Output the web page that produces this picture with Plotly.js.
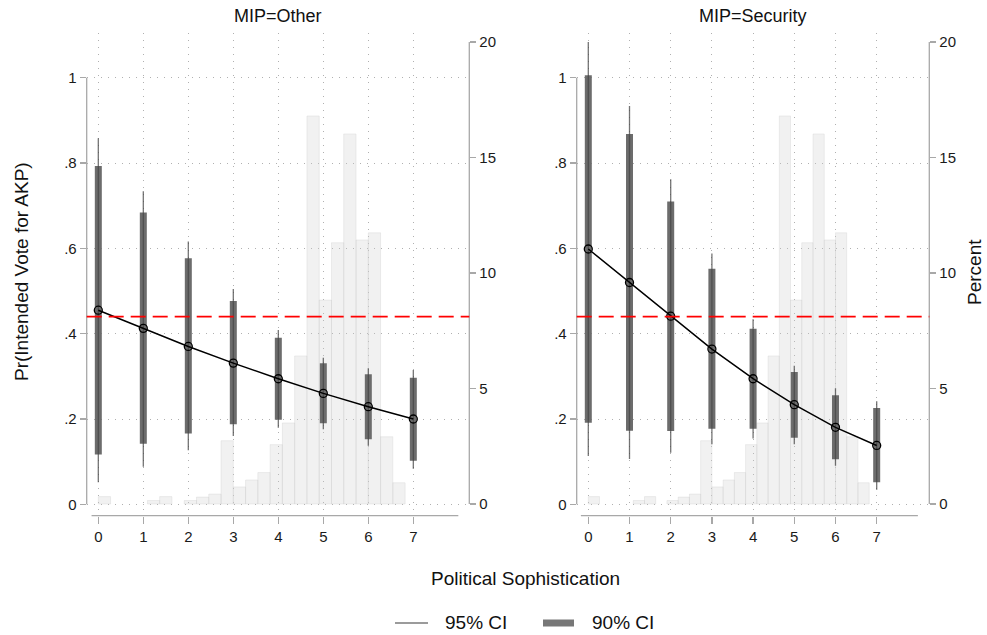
<!DOCTYPE html>
<html>
<head>
<meta charset="utf-8">
<script src="https://cdn.plot.ly/plotly-3.0.1.min.js"></script>
<style>html,body{margin:0;padding:0;background:#fff;}#chart{width:987px;height:635px;}</style>
</head>
<body>
<div id="chart"></div>
<script>
// ---------------- data ----------------
const sophistication = [0, 1, 2, 3, 4, 5, 6, 7];

const otherEst  = [0.455, 0.4125, 0.370, 0.331, 0.2944, 0.260, 0.2289, 0.200];
const otherLo95 = [0.052, 0.088, 0.127, 0.160, 0.1796, 0.1758, 0.1375, 0.0836];
const otherHi95 = [0.858, 0.734, 0.616, 0.505, 0.4086, 0.3437, 0.3188, 0.3149];
const otherLo90 = [0.117, 0.142, 0.166, 0.1875, 0.1983, 0.1899, 0.1524, 0.1023];
const otherHi90 = [0.793, 0.684, 0.577, 0.4766, 0.3906, 0.3305, 0.3047, 0.2969];

const secEst  = [0.5985, 0.520, 0.441, 0.364, 0.2944, 0.2335, 0.1805, 0.138];
const secLo95 = [0.113, 0.106, 0.121, 0.141, 0.154, 0.1406, 0.0905, 0.0342];
const secHi95 = [1.0837, 0.9337, 0.762, 0.588, 0.434, 0.325, 0.272, 0.2414];
const secLo90 = [0.191, 0.1726, 0.172, 0.177, 0.177, 0.156, 0.1055, 0.0516];
const secHi90 = [1.006, 0.868, 0.710, 0.552, 0.4117, 0.310, 0.2555, 0.2257];

// histogram of political sophistication (percent per bin)
const histStart = 0;
const histBinWidth = 0.2727;
const histPercent = [0.32, 0, 0, 0, 0.15, 0.32, 0, 0.15, 0.30, 0.43, 2.74, 0.74, 1.04,
                     1.36, 2.57, 3.51, 6.41, 16.8, 8.83, 11.31, 16.02, 11.43, 11.74, 2.91, 0.92];

const refLine = 0.44;

const probTickVals = [0, 0.2, 0.4, 0.6, 0.8, 1];
const probTickText = ['0', '.2', '.4', '.6', '.8', '1'];
const pctTickVals = [0, 5, 10, 15, 20];
const xTickVals = [0, 1, 2, 3, 4, 5, 6, 7];

const panelTitles = ['MIP=Other', 'MIP=Security'];
const yTitle = 'Pr(Intended Vote for AKP)';
const y2Title = 'Percent';
const xTitle = 'Political Sophistication';
const legendLabels = ['95% CI', '90% CI'];

// ---------------- helpers ----------------
const W = 987, H = 635;
const px = v => v / W;
const py = v => 1 - v / H;

function segs(xs, lo, hi) {
  const X = [], Y = [];
  xs.forEach((x, i) => { X.push(x, x, null); Y.push(lo[i], hi[i], null); });
  return {x: X, y: Y};
}
const histX = histPercent.map((_, i) => histStart + (i + 0.5) * histBinWidth);
const histEdgeW = histPercent.map(v => v > 0 ? 0.8 : 0);

const FONT = 'Liberation Sans, Arial, sans-serif';
const ciThick = '#6c6c6c';

function panelTraces(xa, yPct, yProb, est, lo95, hi95, lo90, hi90) {
  const s95 = segs(sophistication, lo95, hi95);
  const s90 = segs(sophistication, lo90, hi90);
  return [
    {type: 'bar', x: histX, y: histPercent, width: histBinWidth, xaxis: xa, yaxis: yPct,
     marker: {color: 'rgba(205,205,205,0.28)', line: {color: 'rgba(200,200,200,0.4)', width: histEdgeW}},
     showlegend: false, hoverinfo: 'skip'},
    {type: 'scatter', mode: 'lines', x: s90.x, y: s90.y, xaxis: xa, yaxis: yProb,
     line: {color: ciThick, width: 7}, showlegend: false, hoverinfo: 'skip'},
    {type: 'scatter', mode: 'lines', x: s95.x, y: s95.y, xaxis: xa, yaxis: yProb,
     line: {color: 'rgba(70,70,70,0.75)', width: 1.3}, showlegend: false, hoverinfo: 'skip'},
    {type: 'scatter', mode: 'lines+markers', x: sophistication, y: est, xaxis: xa, yaxis: yProb,
     line: {color: '#000', width: 1.5},
     marker: {symbol: 'circle-open', size: 8, color: '#000', line: {width: 1.3, color: '#000'}},
     showlegend: false, hoverinfo: 'skip'}
  ];
}

const data = [
  ...panelTraces('x', 'y', 'y2', otherEst, otherLo95, otherHi95, otherLo90, otherHi90),
  ...panelTraces('x2', 'y3', 'y4', secEst, secLo95, secHi95, secLo90, secHi90)
];

const gridCol = '#b0b0b0';
const gridDash = '1px,6px';
const axCol = '#a8a8a8';
const tickFont = {family: FONT, size: 15, color: '#1a1a1a'};

const yDom = [py(512), py(33)];
const probRange = [-0.018, 1.1048];
const pctRange = [-0.346, 20.39];

function xAxis(dom, range) {
  return {domain: dom, range: range, anchor: 'free', position: py(515.7),
          tickvals: xTickVals, ticks: 'outside', ticklen: 7, tickcolor: axCol, tickwidth: 1.2,
          showline: false, zeroline: false, showgrid: true, gridcolor: gridCol, griddash: gridDash, gridwidth: 1,
          tickfont: tickFont, fixedrange: true};
}
function pctAxis(anchor) {
  return {domain: yDom, range: pctRange, anchor: anchor, side: 'right',
          tickvals: pctTickVals, ticks: 'outside', ticklen: 6, tickcolor: axCol, tickwidth: 1.2,
          showgrid: false, zeroline: false, showline: false, tickfont: tickFont, fixedrange: true};
}
function probAxis(anchor, over) {
  return {domain: yDom, range: probRange, anchor: anchor, overlaying: over, side: 'left',
          tickvals: probTickVals, ticktext: probTickText, ticks: 'outside', ticklen: 6, tickcolor: axCol, tickwidth: 1.2,
          showgrid: true, gridcolor: gridCol, griddash: gridDash, gridwidth: 1,
          zeroline: false, showline: false, tickfont: tickFont, fixedrange: true};
}

const xDomL = [px(86.7), px(469.3)];
const xDomR = [px(576.7), px(929.3)];

const shapes = [];
function panelShapes(xa, yPct, yProb, xLineFrom, xLineTo) {
  shapes.push({type: 'line', xref: xa + ' domain', yref: yProb, x0: 0, x1: 0, y0: 0, y1: 1,
               line: {color: axCol, width: 1.3}});
  shapes.push({type: 'line', xref: xa + ' domain', yref: yPct, x0: 1, x1: 1, y0: 0, y1: 20,
               line: {color: axCol, width: 1.3}});
  shapes.push({type: 'line', xref: xa, yref: 'paper', x0: xLineFrom, x1: xLineTo, y0: py(515.7), y1: py(515.7),
               line: {color: axCol, width: 1.3}});
  shapes.push({type: 'line', xref: xa + ' domain', yref: yProb, x0: 0, x1: 1, y0: refLine, y1: refLine,
               line: {color: '#ff0000', width: 1.6, dash: '15px,7px'}, layer: 'above'});
}
panelShapes('x', 'y', 'y2', -0.15, 8.0);
panelShapes('x2', 'y3', 'y4', -0.18, 8.0);

// legend samples
shapes.push({type: 'line', xref: 'paper', yref: 'paper', x0: px(395), x1: px(428), y0: py(623), y1: py(623),
             line: {color: '#7a7a7a', width: 1.5}});
shapes.push({type: 'rect', xref: 'paper', yref: 'paper', x0: px(543), x1: px(574), y0: py(626.5), y1: py(619.5),
             line: {width: 0}, fillcolor: '#777777'});

const titleFont = {family: FONT, size: 19, color: '#111'};
const panelFont = {family: FONT, size: 18, color: '#111'};
const annotations = [
  {text: panelTitles[0], xref: 'paper', yref: 'paper', x: px(278), y: py(16), xanchor: 'center', yanchor: 'middle', showarrow: false, font: panelFont},
  {text: panelTitles[1], xref: 'paper', yref: 'paper', x: px(753), y: py(16), xanchor: 'center', yanchor: 'middle', showarrow: false, font: panelFont},
  {text: yTitle, xref: 'paper', yref: 'paper', x: px(21), y: py(272), xanchor: 'center', yanchor: 'middle', textangle: -90, showarrow: false, font: titleFont},
  {text: y2Title, xref: 'paper', yref: 'paper', x: px(974), y: py(272), xanchor: 'center', yanchor: 'middle', textangle: -90, showarrow: false, font: titleFont},
  {text: xTitle, xref: 'paper', yref: 'paper', x: px(525), y: py(578), xanchor: 'center', yanchor: 'middle', showarrow: false, font: titleFont},
  {text: legendLabels[0], xref: 'paper', yref: 'paper', x: px(443), y: py(622), xanchor: 'left', yanchor: 'middle', showarrow: false, font: titleFont},
  {text: legendLabels[1], xref: 'paper', yref: 'paper', x: px(590), y: py(622), xanchor: 'left', yanchor: 'middle', showarrow: false, font: titleFont}
];

const layout = {
  width: W, height: H,
  margin: {l: 0, r: 0, t: 0, b: 0, pad: 0},
  paper_bgcolor: '#fff', plot_bgcolor: 'rgba(0,0,0,0)',
  showlegend: false, bargap: 0,
  font: {family: FONT, color: '#111'},
  xaxis: xAxis(xDomL, [-0.258, 8.244]),
  xaxis2: xAxis(xDomR, [-0.2816, 8.277]),
  yaxis: pctAxis('x'),
  yaxis2: probAxis('x', 'y'),
  yaxis3: pctAxis('x2'),
  yaxis4: probAxis('x2', 'y3'),
  shapes: shapes,
  annotations: annotations,
  hovermode: false
};

Plotly.newPlot('chart', data, layout, {staticPlot: true, displayModeBar: false});
</script>
</body>
</html>
